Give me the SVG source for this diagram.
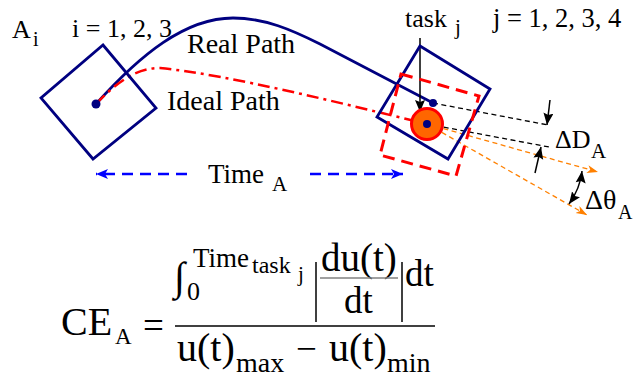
<svg xmlns="http://www.w3.org/2000/svg" width="635" height="379" viewBox="0 0 635 379">
<defs>
<style>
text{font-family:"Liberation Serif","Times New Roman",serif;fill:#000}
.navy{fill:none;stroke:#000080;stroke-width:2.8}
.bluedash{fill:none;stroke:#0000FF;stroke-width:2.5;stroke-dasharray:11 7}
.blk{fill:none;stroke:#000;stroke-width:1.5}
.blkdash{fill:none;stroke:#000;stroke-width:1.3;stroke-dasharray:5 3.5}
.orgdash{fill:none;stroke:#FF8000;stroke-width:1.3;stroke-dasharray:5 3.5}
.reddot{fill:none;stroke:#FF0000;stroke-width:2.5;stroke-dasharray:12 5 3 5}
.reddash{fill:none;stroke:#FF0000;stroke-width:3;stroke-dasharray:12 7}
</style>
<marker id="mBlue" markerUnits="userSpaceOnUse" markerWidth="14" markerHeight="12" refX="12" refY="5" orient="auto"><path d="M0,0 L12,5 L0,10 L3,5 Z" fill="#0000FF"/></marker>
<marker id="mBlk" markerUnits="userSpaceOnUse" markerWidth="14" markerHeight="12" refX="12" refY="5" orient="auto"><path d="M0,0 L12,5 L0,10 L2,5 Z" fill="#000"/></marker>
<marker id="mBlkStart" markerUnits="userSpaceOnUse" markerWidth="14" markerHeight="12" refX="0" refY="5" orient="auto"><path d="M12,0 L0,5 L12,10 L10,5 Z" fill="#000"/></marker>
<marker id="mOrg" markerUnits="userSpaceOnUse" markerWidth="14" markerHeight="12" refX="11" refY="4" orient="auto"><path d="M0,0 L11,4 L0,8 L3,4 Z" fill="#FF8000"/></marker>
</defs>
<rect width="635" height="379" fill="#fff"/>

<g id="connectors">
<path class="navy" d="M96,104 C140,55 185,18 233,18 C265,18 292,30 320,44 L433,103"/>
<path class="reddot" d="M96,104 C115,84 135,68 160,68 C230,75 340,103 427,124"/>
<path class="bluedash" d="M187,174 L96,174" marker-end="url(#mBlue)"/>
<path class="bluedash" d="M310,174 L403,174" marker-end="url(#mBlue)"/>
<path class="blkdash" d="M433,103 L548,125"/>
<path class="blkdash" d="M427,124 L549,147"/>
<path class="orgdash" d="M427,124 L598,172" marker-end="url(#mOrg)"/>
<path class="orgdash" d="M427,124 L587,215" marker-end="url(#mOrg)"/>
<path class="blk" d="M420,38 L420,112" marker-end="url(#mBlk)"/>
<path class="blk" d="M550,100 L547,125" marker-end="url(#mBlk)"/>
<path class="blk" d="M535,173 L541,147" marker-end="url(#mBlk)"/>
<path class="blk" d="M582,171 Q580,189 569,204" marker-start="url(#mBlkStart)" marker-end="url(#mBlk)"/>
</g>

<g id="agentA">
<polygon class="navy" points="103,45 156,108 93,159 41,98"/>
<circle cx="96" cy="104" r="4.5" fill="#000080"/>
</g>

<g id="taskSquare">
<polygon class="navy" points="420,46 490,89 448,159 377,117"/>
</g>

<g id="idealSquare">
<polygon class="reddash" points="401,74 479,96 456,176 380,155"/>
</g>

<g id="taskPoint">
<circle cx="427" cy="124" r="15.5" fill="#FF6600" stroke="#FF0000" stroke-width="3"/>
<circle cx="427" cy="124" r="4" fill="#000080"/>
<circle cx="433" cy="103" r="4" fill="#000080"/>
</g>

<g id="labels">
<text x="12" y="38" font-size="26">A</text>
<text x="33" y="46" font-size="20">i</text>
<text x="72" y="37" font-size="26">i = 1, 2, 3</text>
<text x="187" y="53" font-size="28">Real Path</text>
<text x="167" y="110" font-size="28">Ideal Path</text>
<text x="208" y="183" font-size="27">Time</text>
<text x="272" y="191" font-size="21">A</text>
<text x="405" y="27" font-size="26">task</text>
<text x="455" y="34" font-size="21">j</text>
<text x="493" y="27" font-size="26.5">j = 1, 2, 3, 4</text>
<text x="555" y="148" font-size="26">ΔD</text>
<text x="591" y="158" font-size="21">A</text>
<text x="585" y="209" font-size="28">Δθ</text>
<text x="618" y="219" font-size="20">A</text>
</g>

<g id="formula">
<text x="61" y="335" font-size="40">CE</text>
<text x="115" y="344" font-size="23">A</text>
<text x="143" y="338" font-size="37">=</text>
<line x1="175" y1="326" x2="435" y2="326" stroke="#000" stroke-width="1.5"/>
<text x="174" y="290" font-size="40">∫</text>
<text x="187" y="300" font-size="26">0</text>
<text x="193" y="267" font-size="27">Time</text>
<text x="252" y="273" font-size="24">task</text>
<text x="298" y="281" font-size="21">j</text>
<line x1="316" y1="262" x2="316" y2="322" stroke="#000" stroke-width="1.5"/>
<line x1="402" y1="262" x2="402" y2="322" stroke="#000" stroke-width="1.5"/>
<text x="321" y="271" font-size="39">du(t)</text>
<line x1="320" y1="278" x2="398" y2="278" stroke="#808080" stroke-width="1.5"/>
<text x="344" y="313" font-size="37">dt</text>
<text x="405" y="286" font-size="37">dt</text>
<text x="177" y="361" font-size="40">u(t)</text>
<text x="236" y="372" font-size="28">max</text>
<text x="296" y="361" font-size="37">−</text>
<text x="329" y="361" font-size="40">u(t)</text>
<text x="387" y="372" font-size="28">min</text>
</g>
</svg>
